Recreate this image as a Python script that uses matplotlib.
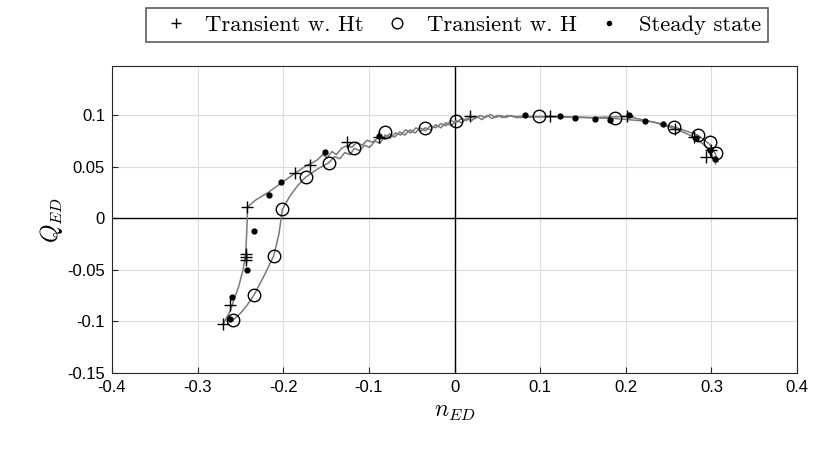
import matplotlib
matplotlib.use('Agg')
import matplotlib.pyplot as plt

# Transient w. Ht : line vertices
ht_n = [-0.270, -0.262, -0.258, -0.252, -0.247, -0.244, -0.243, -0.242, -0.242,
        -0.232, -0.218, -0.203, -0.186, -0.172, -0.166,
        -0.160, -0.154, -0.149, -0.143, -0.138, -0.132, -0.125, -0.120, -0.114,
        -0.108, -0.102, -0.096, -0.088, -0.082, -0.076, -0.070, -0.064, -0.058,
        -0.052, -0.046, -0.040, -0.034, -0.028, -0.022, -0.016, -0.010, -0.004,
        0.002, 0.008, 0.014, 0.018, 0.024, 0.030, 0.036, 0.042, 0.048, 0.054,
        0.060, 0.066, 0.072, 0.112, 0.160, 0.202, 0.235, 0.258, 0.280, 0.292,
        0.299, 0.303, 0.305]
ht_q = [-0.102, -0.090, -0.080, -0.066, -0.050, -0.036, -0.020, 0.000, 0.011,
        0.018, 0.025, 0.034, 0.044, 0.052, 0.054,
        0.057, 0.062, 0.059, 0.065, 0.062, 0.068, 0.071, 0.069, 0.074,
        0.071, 0.076, 0.074, 0.079, 0.077, 0.082, 0.079, 0.084, 0.081,
        0.086, 0.083, 0.088, 0.085, 0.090, 0.088, 0.092, 0.090, 0.095,
        0.093, 0.097, 0.095, 0.099, 0.097, 0.100, 0.098, 0.101, 0.098, 0.100,
        0.098, 0.100, 0.098, 0.099, 0.098, 0.099, 0.093, 0.087, 0.079, 0.071,
        0.064, 0.058, 0.053]
ht_mark_n = [-0.270, -0.262, -0.243, -0.243, -0.243, -0.242, -0.186, -0.169,
             -0.125, -0.088, 0.018, 0.112, 0.202, 0.258, 0.280, 0.294, 0.299]
ht_mark_q = [-0.102, -0.084, -0.034, -0.037, -0.040, 0.011, 0.044, 0.052,
             0.074, 0.079, 0.099, 0.099, 0.099, 0.087, 0.079, 0.060, 0.066]

# Transient w. H : line vertices
h_n = [-0.259, -0.250, -0.242, -0.234, -0.222, -0.211, -0.205, -0.201, -0.192,
       -0.183, -0.174, -0.160, -0.147,
       -0.140, -0.134, -0.128, -0.122, -0.117, -0.111, -0.105, -0.099, -0.093,
       -0.087, -0.081, -0.075, -0.069, -0.063, -0.057, -0.051, -0.045, -0.039,
       -0.034, -0.028, -0.022, -0.016, -0.010, -0.004, 0.002, 0.008, 0.014,
       0.020, 0.026, 0.032, 0.038, 0.044, 0.050, 0.056, 0.062, 0.068,
       0.099, 0.150, 0.188, 0.230, 0.256, 0.284, 0.298, 0.305, 0.308]
h_q = [-0.099, -0.092, -0.084, -0.074, -0.055, -0.036, -0.015, 0.009, 0.022,
       0.032, 0.040, 0.048, 0.054,
       0.060, 0.058, 0.064, 0.062, 0.068, 0.066, 0.071, 0.069, 0.075,
       0.073, 0.081, 0.078, 0.083, 0.081, 0.086, 0.083, 0.088, 0.085,
       0.088, 0.086, 0.091, 0.088, 0.093, 0.090, 0.095, 0.093, 0.097,
       0.095, 0.099, 0.096, 0.100, 0.097, 0.100, 0.098, 0.100, 0.099,
       0.099, 0.098, 0.097, 0.094, 0.089, 0.081, 0.072, 0.062, 0.055]
h_mark_n = [-0.259, -0.234, -0.211, -0.201, -0.174, -0.147, -0.117, -0.081,
            -0.034, 0.002, 0.099, 0.188, 0.256, 0.284, 0.298, 0.305]
h_mark_q = [-0.099, -0.074, -0.036, 0.009, 0.040, 0.054, 0.068, 0.084,
            0.088, 0.095, 0.099, 0.098, 0.089, 0.081, 0.074, 0.064]

# Steady state
ss_n = [-0.262, -0.260, -0.242, -0.234, -0.217, -0.203, -0.151, -0.088,
        0.082, 0.123, 0.141, 0.164, 0.182, 0.204, 0.223, 0.243, 0.282,
        0.298, 0.304]
ss_q = [-0.098, -0.076, -0.050, -0.012, 0.023, 0.035, 0.065, 0.080,
        0.100, 0.099, 0.098, 0.097, 0.096, 0.100, 0.095, 0.092, 0.078,
        0.066, 0.058]

x_ticks = [-0.4, -0.3, -0.2, -0.1, 0, 0.1, 0.2, 0.3, 0.4]
y_ticks = [-0.15, -0.1, -0.05, 0, 0.05, 0.1]

plt.rcParams['mathtext.fontset'] = 'cm'
fig = plt.figure(figsize=(8.21, 4.5), dpi=100)
ax = fig.add_axes([0.1364, 0.1711, 0.8344, 0.6822])

line_col = '#7a7a7a'
ax.plot(ht_n, ht_q, color=line_col, lw=1.1, zorder=2)
ax.plot(h_n, h_q, color=line_col, lw=1.1, zorder=2)
ax.plot(ht_mark_n, ht_mark_q, ls='none', marker='+', color='black',
        ms=9, mew=1.0, zorder=3, label='Transient w. Ht')
ax.plot(h_mark_n, h_mark_q, ls='none', marker='o', mfc='none', mec='black',
        ms=9, mew=1.0, zorder=3, label='Transient w. H')
ax.plot(ss_n, ss_q, ls='none', marker='.', color='black', ms=7,
        zorder=3, label='Steady state')

ax.axhline(0, color='black', lw=1.0, zorder=1)
ax.axvline(0, color='black', lw=1.0, zorder=1)

ax.set_xlim(-0.4, 0.4)
ax.set_ylim(-0.15, 0.148)
ax.set_xticks(x_ticks)
ax.set_yticks(y_ticks)
ax.set_xticklabels(['-0.4', '-0.3', '-0.2', '-0.1', '0', '0.1', '0.2', '0.3', '0.4'])
ax.set_yticklabels(['-0.15', '-0.1', '-0.05', '0', '0.05', '0.1'])
ax.grid(True, color='#dcdcdc', lw=0.8)
ax.set_axisbelow(True)
ax.tick_params(direction='in', length=4, labelsize=12, color='#262626', pad=5)
for lab in ax.get_xticklabels() + ax.get_yticklabels():
    lab.set_family('Liberation Sans')
for s in ax.spines.values():
    s.set_color('#262626')
    s.set_linewidth(0.8)

ax.set_xlabel('$n_{ED}$', fontsize=17, labelpad=3)
ax.set_ylabel('$Q_{ED}$', fontsize=17, labelpad=2)

leg = fig.legend(loc='center', bbox_to_anchor=(0.5566, 0.9444), ncol=3,
                 prop={'family': 'cmr10', 'size': 16.3},
                 frameon=True, fancybox=False, edgecolor='#333333',
                 handlelength=2.0, handletextpad=0.32, columnspacing=0.44,
                 borderpad=0.3, markerscale=0.85)
leg.get_frame().set_linewidth(1.2)

fig.savefig('out.png', dpi=100)
